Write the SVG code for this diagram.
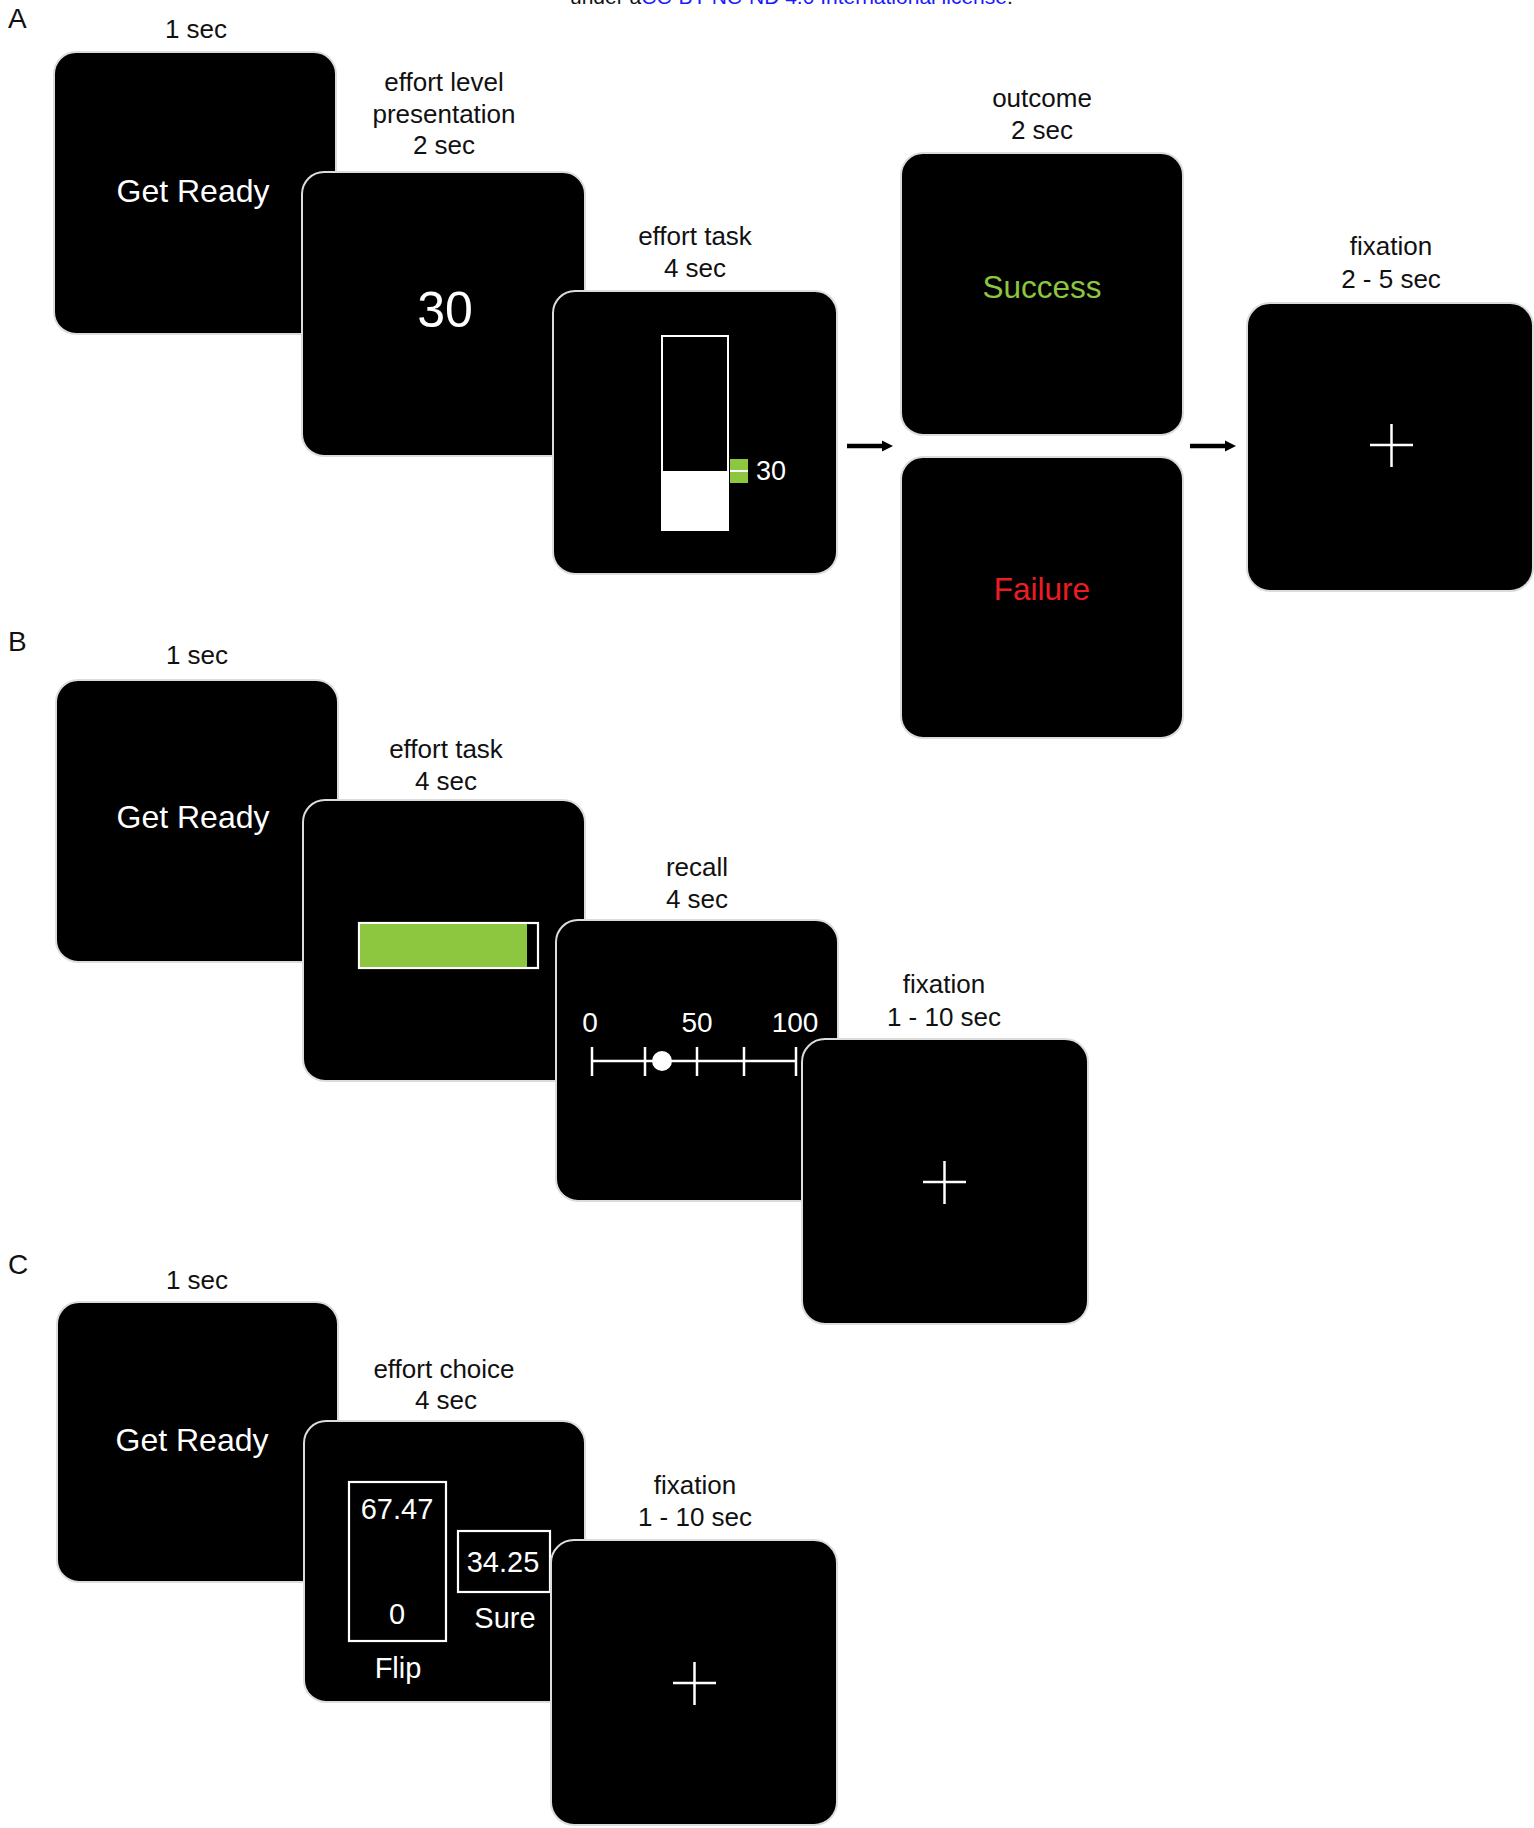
<svg xmlns="http://www.w3.org/2000/svg" width="1534" height="1828" viewBox="0 0 1534 1828">
<style>
text{font-family:"Liberation Sans",Arial,sans-serif}
.lbl{font-size:26px;fill:#111;text-anchor:middle}
.pl{font-size:28px;fill:#111}
.scr{fill:#000;stroke:#dcdcdc;stroke-width:2}
.w{fill:#fff;text-anchor:middle}
.gr{font-size:32px}
.cross{stroke:#fff;stroke-width:2.5;fill:none}
.wl{stroke:#fff;stroke-width:2.5;fill:none}
.ar{stroke:#000;stroke-width:4.5;fill:none}
</style>
<defs>
<marker id="ah" markerUnits="userSpaceOnUse" markerWidth="12" markerHeight="12" refX="1" refY="6" orient="auto">
<path d="M0,0.5 L11,6 L0,11.5 Z" fill="#000"/>
</marker>
</defs>
<rect width="1534" height="1828" fill="#fff"/>
<text x="570" y="3.5" font-size="21" fill="#111">under a<tspan fill="#1a1aff">CC-BY-NC-ND 4.0 International license</tspan>.</text>

<text class="pl" x="8" y="28">A</text>
<text class="pl" x="8" y="651">B</text>
<text class="pl" x="8" y="1274">C</text>

<!-- Panel A -->
<g id="a-getready">
<text class="lbl" x="196" y="38">1 sec</text>
<rect class="scr" x="54" y="52" width="282" height="282" rx="22"/>
<text class="w gr" x="193" y="202">Get Ready</text>
</g>
<g id="a-effortlevel">
<text class="lbl" x="444" y="91">effort level</text>
<text class="lbl" x="444" y="122.5">presentation</text>
<text class="lbl" x="444" y="154">2 sec</text>
<rect class="scr" x="302" y="172" width="283" height="284" rx="22"/>
<text class="w" x="445" y="327" font-size="50">30</text>
</g>
<g id="a-efforttask">
<text class="lbl" x="695" y="245">effort task</text>
<text class="lbl" x="695" y="277">4 sec</text>
<rect class="scr" x="553" y="291" width="284" height="283" rx="22"/>
<rect x="662" y="336" width="66" height="194" fill="#000" stroke="#fff" stroke-width="2"/>
<rect x="662" y="471" width="66" height="59" fill="#fff"/>
<rect x="730" y="459" width="18" height="24" fill="#8dc63f"/>
<line x1="730" y1="471" x2="748" y2="471" stroke="#fff" stroke-width="2"/>
<text x="756" y="480" font-size="27" fill="#fff">30</text>
</g>
<g id="a-success">
<text class="lbl" x="1042" y="107">outcome</text>
<text class="lbl" x="1042" y="139">2 sec</text>
<rect class="scr" x="901" y="153" width="282" height="282" rx="22"/>
<text x="1042" y="298" font-size="31.5" fill="#8dc63f" text-anchor="middle">Success</text>
</g>
<g id="a-failure">
<rect class="scr" x="901" y="457" width="282" height="281" rx="22"/>
<text x="1042" y="600" font-size="31.5" fill="#ed1c24" text-anchor="middle">Failure</text>
</g>
<g id="a-fixation">
<text class="lbl" x="1391" y="255">fixation</text>
<text class="lbl" x="1391" y="288">2 - 5 sec</text>
<rect class="scr" x="1247" y="303" width="286" height="288" rx="23"/>
<path class="cross" d="M1370,445 H1413 M1391.5,424 V467"/>
</g>

<!-- Panel B -->
<g id="b-getready">
<text class="lbl" x="197" y="664">1 sec</text>
<rect class="scr" x="56" y="680" width="282" height="282" rx="22"/>
<text class="w gr" x="193" y="828">Get Ready</text>
</g>
<g id="b-efforttask">
<text class="lbl" x="446" y="758">effort task</text>
<text class="lbl" x="446" y="790">4 sec</text>
<rect class="scr" x="303" y="800" width="282" height="281" rx="22"/>
<rect x="359" y="923" width="179" height="45" fill="#000" stroke="#fff" stroke-width="2.2"/>
<rect x="360" y="924" width="167" height="43" fill="#8dc63f"/>
</g>
<g id="b-recall">
<text class="lbl" x="697" y="876">recall</text>
<text class="lbl" x="697" y="908">4 sec</text>
<rect class="scr" x="556" y="920" width="282" height="281" rx="22"/>
<g font-size="28" fill="#fff" text-anchor="middle">
<text x="590" y="1032">0</text>
<text x="697" y="1032">50</text>
<text x="795" y="1032">100</text>
</g>
<path class="wl" d="M592,1061 H796 M592,1047 V1076 M645,1047 V1076 M697,1047 V1076 M744,1047 V1076 M796,1047 V1076"/>
<circle cx="662" cy="1061" r="10" fill="#fff"/>
</g>
<g id="b-fixation">
<text class="lbl" x="944" y="993">fixation</text>
<text class="lbl" x="944" y="1026">1 - 10 sec</text>
<rect class="scr" x="802" y="1039" width="286" height="285" rx="23"/>
<path class="cross" d="M923,1182 H966 M944.5,1161 V1204"/>
</g>

<!-- Panel C -->
<g id="c-getready">
<text class="lbl" x="197" y="1289">1 sec</text>
<rect class="scr" x="57" y="1302" width="281" height="280" rx="22"/>
<text class="w gr" x="192" y="1451">Get Ready</text>
</g>
<g id="c-effortchoice">
<text class="lbl" x="444" y="1378">effort choice</text>
<text class="lbl" x="446" y="1409">4 sec</text>
<rect class="scr" x="304" y="1421" width="281" height="281" rx="22"/>
<rect x="349" y="1482" width="97" height="159" fill="none" stroke="#fff" stroke-width="2.2"/>
<rect x="458" y="1531" width="92" height="61" fill="none" stroke="#fff" stroke-width="2.2"/>
<g font-size="29" fill="#fff" text-anchor="middle">
<text x="397" y="1519">67.47</text>
<text x="397" y="1624">0</text>
<text x="398" y="1678">Flip</text>
<text x="503" y="1572">34.25</text>
<text x="505" y="1628">Sure</text>
</g>
</g>
<g id="c-fixation">
<text class="lbl" x="695" y="1494">fixation</text>
<text class="lbl" x="695" y="1526">1 - 10 sec</text>
<rect class="scr" x="551" y="1540" width="286" height="285" rx="23"/>
<path class="cross" d="M673,1683 H716 M694.5,1662 V1705"/>
</g>

<g id="connectors">
<line class="ar" x1="847" y1="446" x2="883" y2="446" marker-end="url(#ah)"/>
<line class="ar" x1="1190" y1="446" x2="1226" y2="446" marker-end="url(#ah)"/>
</g>
</svg>
